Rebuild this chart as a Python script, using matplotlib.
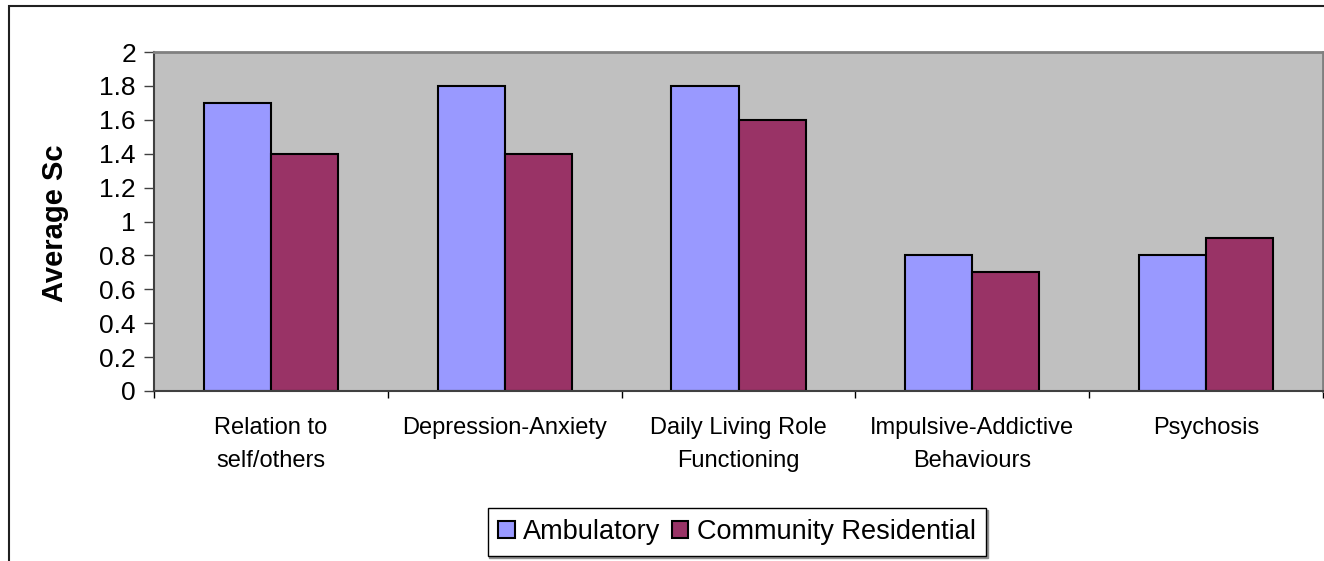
import numpy as np
import matplotlib.pyplot as plt
from matplotlib.patches import Rectangle

plt.rcParams['font.family'] = ['Liberation Sans', 'DejaVu Sans']

categories = ["Relation to\nself/others", "Depression-Anxiety", "Daily Living Role\nFunctioning",
              "Impulsive-Addictive\nBehaviours", "Psychosis"]
ambulatory = [1.7, 1.8, 1.8, 0.8, 0.8]
community = [1.4, 1.4, 1.6, 0.7, 0.9]
yticks = [0, 0.2, 0.4, 0.6, 0.8, 1, 1.2, 1.4, 1.6, 1.8, 2]
ytick_labels = ["0", "0.2", "0.4", "0.6", "0.8", "1", "1.2", "1.4", "1.6", "1.8", "2"]

fig = plt.figure(figsize=(13.24, 5.61), dpi=100)
ax = fig.add_axes([154 / 1324, 1 - 391 / 561, 1169 / 1324, 339 / 561])
ax.set_facecolor("#C0C0C0")

x = np.arange(len(categories))
w = 0.287
ax.bar(x - w / 2, ambulatory, w, color="#9999FF", edgecolor="black", linewidth=1.5, label="Ambulatory")
ax.bar(x + w / 2, community, w, color="#993366", edgecolor="black", linewidth=1.5, label="Community Residential")

ax.set_xlim(-0.5, len(categories) - 0.5)
ax.set_ylim(0, 2)
ax.set_yticks(yticks)
ax.set_yticklabels(ytick_labels, fontsize=19)
ax.tick_params(axis="y", length=7, width=1, color="#404040", pad=6)

# category labels on major ticks, boundary marks on minor ticks
ax.set_xticks(x)
ax.set_xticklabels(categories, fontsize=17, linespacing=1.6)
ax.set_xticks(np.arange(len(categories) + 1) - 0.5, minor=True)
ax.tick_params(axis="x", which="major", length=0, pad=19)
ax.tick_params(axis="x", which="minor", length=5, width=1, color="black")

for side in ["top", "right"]:
    ax.spines[side].set_color("#808080")
    ax.spines[side].set_linewidth(2)
ax.spines["left"].set_color("#404040")
ax.spines["bottom"].set_color("#404040")
ax.spines["left"].set_linewidth(1.5)
ax.spines["bottom"].set_linewidth(1.5)

fig.text(55 / 1324, 1 - 223 / 561, "Average Sc", rotation=90, fontsize=21, fontweight="bold",
         ha="center", va="center")

# chart border
fig.patches.append(Rectangle((9 / 1324, -0.1), 1.2, 1 - 6 / 561 + 0.1, transform=fig.transFigure,
                             fill=False, edgecolor="#202020", linewidth=1.5))

leg = fig.legend(loc="center", bbox_to_anchor=(737 / 1324, 1 - 532 / 561), ncol=2, fontsize=19.5,
                 frameon=True, fancybox=False, edgecolor="black", handlelength=0.62, handleheight=0.62,
                 handletextpad=0.3, columnspacing=0.4, borderpad=0.4, borderaxespad=0,
                 shadow={"color": "#909090", "alpha": 1, "ox": 1.2, "oy": -1.2})
leg.get_frame().set_linewidth(1)
for h in leg.legend_handles:
    h.set_linewidth(1.5)

fig.savefig("out.png", dpi=100)
